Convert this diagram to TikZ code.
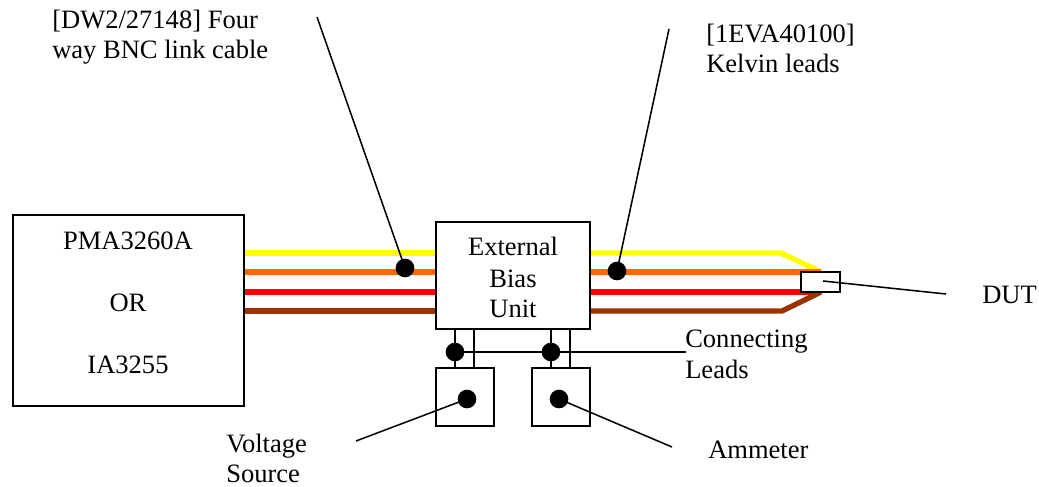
\documentclass[tikz,border=0pt]{standalone}
\usepackage{fontspec}
\setmainfont{Liberation Serif}
\definecolor{wyellow}{RGB}{255,255,0}
\definecolor{worange}{RGB}{255,102,0}
\definecolor{wred}{RGB}{255,0,0}
\definecolor{wbrown}{RGB}{153,51,0}
\tikzset{
  boxed/.style={draw=black,line width=1.3pt,fill=white,inner sep=0pt,outer sep=0pt,anchor=north west},
  wire/.style={line width=4pt,line join=miter},
  lead/.style={draw=black,line width=1.15pt},
  dotnode/.style={circle,fill=black,minimum size=14pt,inner sep=0pt,outer sep=0pt},
  label/.style={font=\fontsize{19.9}{22}\selectfont,inner sep=0pt,anchor=base},
  leftlabel/.style={label,anchor=base west},
}
\begin{document}
\begin{tikzpicture}[x=0.75pt,y=-0.75pt]
\useasboundingbox (0,0) rectangle (1039,486);
% coordinates for wires
\coordinate (ly) at (244,253); \coordinate (lo) at (244,272); \coordinate (lr) at (244,292); \coordinate (lb) at (244,311);
\coordinate (my) at (436,253); \coordinate (mo) at (436,272); \coordinate (mr) at (436,292); \coordinate (mb) at (436,311);
\coordinate (ry) at (590,253); \coordinate (ro) at (590,272); \coordinate (rr) at (590,292); \coordinate (rb) at (590,311);
\coordinate (ky) at (781,253); \coordinate (kb) at (782,311);
\coordinate (ey) at (821,272); \coordinate (eo) at (821,272); \coordinate (er) at (821,292); \coordinate (eb) at (821,292);
\draw[wire,wyellow] (ly) -- (my);
\draw[wire,worange] (lo) -- (mo);
\draw[wire,wred] (lr) -- (mr);
\draw[wire,wbrown] (lb) -- (mb);
\draw[wire,wyellow] (ry) -- (ky) -- (ey);
\draw[wire,worange] (ro) -- (eo);
\draw[wire,wred] (rr) -- (er);
\draw[wire,wbrown] (rb) -- (kb) -- (eb);
% boxes
\node[boxed,minimum width=173.25pt,minimum height=143.25pt] (pma) at (13,215) {};
\node[boxed,minimum width=115.5pt,minimum height=80.25pt] (ebu) at (436,222) {};
\node[boxed,minimum width=43.5pt,minimum height=43.5pt] (vs) at (436,368) {};
\node[boxed,minimum width=43.5pt,minimum height=43.5pt] (am) at (532,368) {};
\node[boxed,minimum width=29.25pt,minimum height=15pt] (dut) at (801,272) {};
% box text
\node[label] (t1) at (128,249) {PMA3260A};
\node[label] (t2) at (128,311) {OR};
\node[label] (t3) at (128,373) {IA3255};
\node[label] (t4) at (513,255) {External};
\node[label] (t5) at (513,287) {Bias};
\node[label] (t6) at (513,317) {Unit};
% leads between unit and instruments
\coordinate (a1) at (455,329); \coordinate (a2) at (455,368);
\coordinate (b1) at (474,329); \coordinate (b2) at (474,368);
\coordinate (c1) at (551,329); \coordinate (c2) at (551,368);
\coordinate (d1) at (570,329); \coordinate (d2) at (570,368);
\draw[lead] (a1) -- (a2); \draw[lead] (b1) -- (b2); \draw[lead] (c1) -- (c2); \draw[lead] (d1) -- (d2);
% dots
\node[dotnode] (dcable) at (405,268) {};
\node[dotnode] (dkelvin) at (617,271) {};
\node[dotnode] (dl1) at (455,352) {};
\node[dotnode] (dl2) at (551,352) {};
\node[dotnode] (dvs) at (467,399) {};
\node[dotnode] (dam) at (559,399) {};
% callouts
\coordinate (ccable) at (317,17);
\coordinate (ckelvin) at (669,29);
\coordinate (cleads) at (686,352);
\coordinate (cvs) at (356,441);
\coordinate (cam) at (672,447);
\coordinate (cdut) at (946,294);
\coordinate (cdutin) at (823,281);
\draw[lead] (ccable) -- (dcable.center);
\draw[lead] (ckelvin) -- (dkelvin.center);
\draw[lead] (dl1.center) -- (cleads);
\draw[lead] (cvs) -- (dvs.center);
\draw[lead] (cam) -- (dam.center);
\draw[lead] (cdutin) -- (cdut);
% labels
\node[leftlabel] (l1a) at (52,28) {[DW2/27148] Four};
\node[leftlabel] (l1b) at (52,58) {way BNC link cable};
\node[leftlabel] (l2a) at (706,42) {[1EVA40100]};
\node[leftlabel] (l2b) at (706,72) {Kelvin leads};
\node[leftlabel] (l3) at (982,303) {DUT};
\node[leftlabel] (l4a) at (685,347) {Connecting};
\node[leftlabel] (l4b) at (685,378) {Leads};
\node[leftlabel] (l5a) at (226,452) {Voltage};
\node[leftlabel] (l5b) at (226,482) {Source};
\node[leftlabel] (l6) at (708,458) {Ammeter};
\end{tikzpicture}
\end{document}
